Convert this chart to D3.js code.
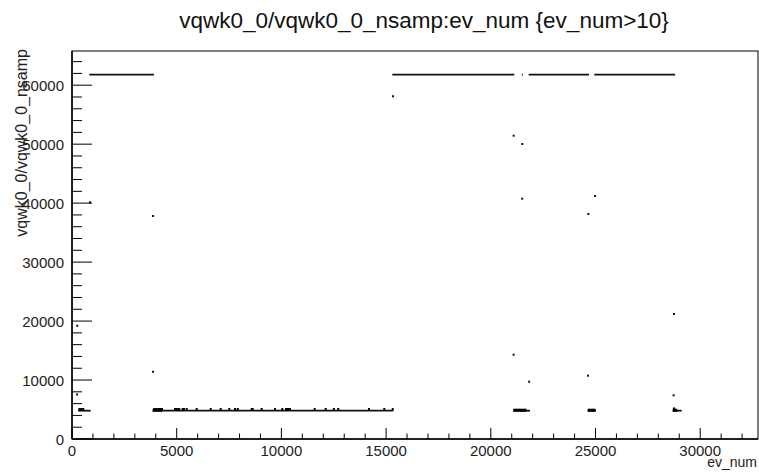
<!DOCTYPE html>
<html><head><meta charset="utf-8">
<script src="https://cdn.jsdelivr.net/npm/d3@7"></script>
<style>
html,body{margin:0;padding:0;background:#fff;}
svg{display:block;font-family:"Liberation Sans",Arial,Helvetica,sans-serif;}
</style></head>
<body><svg id="c" width="759" height="475"></svg>
<script>
// ---- data ----
const titleText = "vqwk0_0/vqwk0_0_nsamp:ev_num {ev_num>10}";
const xLabel = "ev_num";
const yLabel = "vqwk0_0/vqwk0_0_nsamp";
const xTicks = [0, 5000, 10000, 15000, 20000, 25000, 30000];
const yTicks = [0, 10000, 20000, 30000, 40000, 50000, 60000];
// dense runs of points: [ev start, ev end, nsamp]
const runStart = [826, 15296, 21480, 21810, 24943, 300, 3854, 21075, 24627, 28687];
const runEnd   = [3916, 21122, 21530, 24689, 28800, 893, 15315, 21872, 25024, 29116];
const runValue = [61800, 61800, 61800, 61800, 61800, 4800, 4800, 4800, 4800, 4800];
// thicker point clusters on the low band
const clusterStart = [21075, 24627, 28687, 3854];
const clusterEnd   = [21700, 25000, 28900, 4300];
const clusterValue = [4800, 4800, 4800, 4800];
// small off-line points on the low band
const markEv = [350, 415, 478, 540, 3930, 4011, 4121, 4202, 4298, 4919, 5000, 5076, 5124, 5287, 5349, 5478, 5955, 6624, 7101, 7512, 7784, 7913, 8582, 8630, 9059, 9694, 10043, 10220, 10282, 10349, 10411, 11590, 12116, 12507, 12713, 14183, 14914, 15315, 28750];
const markValue = [5000, 5000, 5000, 5000, 5000, 5000, 5000, 5000, 5000, 5000, 5000, 5000, 5000, 5000, 5000, 5000, 5000, 5000, 5000, 5000, 5000, 5000, 5000, 5000, 5000, 5000, 5000, 5000, 5000, 5000, 5000, 5000, 5000, 5000, 5000, 5000, 5000, 5000, 5100];
// isolated points
const ptEv    = [860, 250, 240, 3870, 3870, 15330, 21090, 21500, 21500, 24980, 24660, 21090, 21830, 24640, 28730, 28750];
const ptValue = [40140, 19210, 7550, 37820, 11410, 58120, 51440, 50030, 40750, 41210, 38160, 14300, 9720, 10740, 7410, 21200];

// ---- layout ----
const svg = d3.select("#c");
const L = 72, R = 758, T = 51, B = 439;
const x = d3.scaleLinear().domain([0, 32760]).range([L, R]);
const y = d3.scaleLinear().domain([0, 65800]).range([B, T]);

// frame
svg.append("rect").attr("x", L).attr("y", T).attr("width", R - L).attr("height", B - T)
  .attr("fill", "none").attr("stroke", "#000").attr("stroke-width", 1);

// runs
const runs = runStart.map((s, i) => ({s, e: runEnd[i], v: runValue[i]}));
svg.append("g").selectAll("line").data(runs).join("line")
  .attr("x1", d => x(d.s)).attr("x2", d => x(d.e))
  .attr("y1", d => y(d.v)).attr("y2", d => y(d.v))
  .attr("stroke", "#111").attr("stroke-width", 1.8);

const clusters = clusterStart.map((s, i) => ({s, e: clusterEnd[i], v: clusterValue[i]}));
svg.append("g").selectAll("rect").data(clusters).join("rect")
  .attr("x", d => x(d.s)).attr("width", d => x(d.e) - x(d.s))
  .attr("y", d => y(d.v) - 2).attr("height", 3)
  .attr("fill", "#000");

const marks = markEv.map((e, i) => ({e, v: markValue[i]}));
svg.append("g").selectAll("rect").data(marks).join("rect")
  .attr("x", d => x(d.e) - 1).attr("width", 2)
  .attr("y", d => y(d.v) - 1.5).attr("height", 3)
  .attr("fill", "#000");

const pts = ptEv.map((e, i) => ({e, v: ptValue[i]}));
svg.append("g").selectAll("rect").data(pts).join("rect")
  .attr("x", d => x(d.e) - 1).attr("y", d => y(d.v) - 1)
  .attr("width", 2).attr("height", 2).attr("fill", "#111");

// axes (ROOT style, ticks inside)
const ax = svg.append("g");
const xMinor = d3.range(0, 32761, 1000);
ax.selectAll(".xm").data(xMinor).join("line")
  .attr("x1", d => x(d)).attr("x2", d => x(d))
  .attr("y1", B).attr("y2", d => B - (d % 5000 === 0 ? 11 : 5.5))
  .attr("stroke", "#000").attr("stroke-width", 1);
const yMinor = d3.range(0, 65801, 2000);
ax.selectAll(".ym").data(yMinor).join("line")
  .attr("y1", d => y(d)).attr("y2", d => y(d))
  .attr("x1", L).attr("x2", d => L + (d % 10000 === 0 ? 20 : 10))
  .attr("stroke", "#000").attr("stroke-width", 1);
ax.append("line").attr("x1", L).attr("x2", R).attr("y1", B).attr("y2", B).attr("stroke", "#000").attr("stroke-width", 1.5);
ax.append("line").attr("x1", L).attr("x2", L).attr("y1", T).attr("y2", B).attr("stroke", "#000").attr("stroke-width", 1.5);

ax.selectAll(".xl").data(xTicks).join("text")
  .attr("x", d => x(d)).attr("y", 456)
  .attr("text-anchor", "middle").attr("font-size", 15).attr("fill", "#222")
  .text(d => d);
ax.selectAll(".yl").data(yTicks).join("text")
  .attr("x", 64).attr("y", d => y(d) + 5.5)
  .attr("text-anchor", "end").attr("font-size", 15).attr("fill", "#222")
  .text(d => d);

svg.append("text").attr("x", 757).attr("y", 467).attr("text-anchor", "end")
  .attr("font-size", 14).attr("fill", "#222").text(xLabel);
svg.append("text").attr("transform", "translate(27,49) rotate(-90)")
  .attr("text-anchor", "end").attr("font-size", 16).attr("fill", "#222").text(yLabel);
svg.append("text").attr("x", 424).attr("y", 28).attr("text-anchor", "middle")
  .attr("font-size", 22.5).attr("fill", "#111").text(titleText);
</script></body></html>
